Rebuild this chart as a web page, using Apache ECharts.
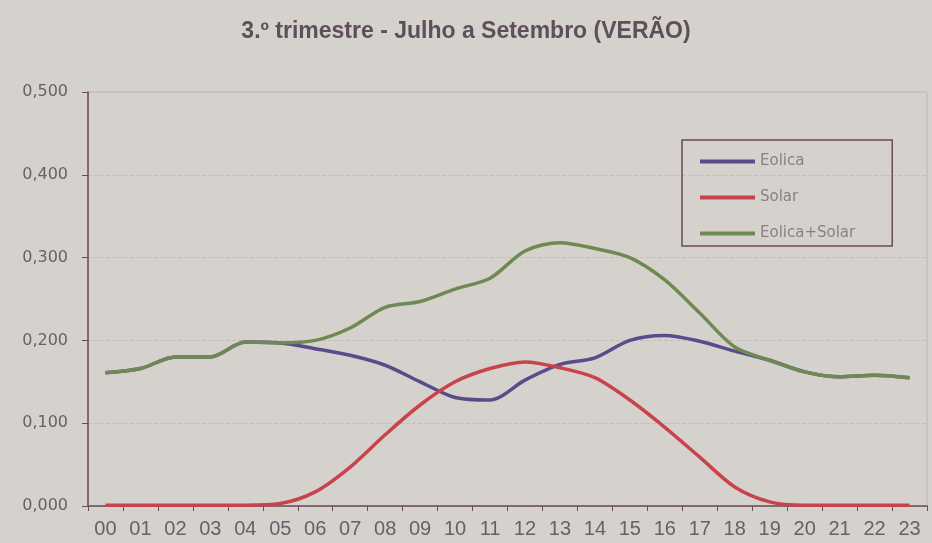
<!DOCTYPE html>
<html><head><meta charset="utf-8">
<script src="https://cdn.jsdelivr.net/npm/echarts@6/dist/echarts.min.js"></script>
<style>html,body{margin:0;padding:0;background:#d5d2cd;}#c{width:932px;height:543px;}</style>
</head><body><div id="c"></div>
<script>
const hours = ['00','01','02','03','04','05','06','07','08','09','10','11','12','13','14','15','16','17','18','19','20','21','22','23'];
const eolica = [0.161,0.166,0.180,0.180,0.198,0.197,0.190,0.182,0.170,0.150,0.131,0.128,0.152,0.171,0.179,0.200,0.206,0.199,0.187,0.176,0.162,0.156,0.158,0.155];
const solar = [0.001,0.001,0.001,0.001,0.001,0.003,0.017,0.047,0.086,0.122,0.150,0.166,0.174,0.167,0.155,0.128,0.095,0.059,0.023,0.005,0.001,0.001,0.001,0.001];
const eolicaSolar = [0.161,0.166,0.180,0.180,0.198,0.197,0.200,0.215,0.240,0.247,0.262,0.275,0.308,0.318,0.311,0.300,0.273,0.233,0.192,0.176,0.162,0.156,0.158,0.155];
const yTicks = ['0,000','0,100','0,200','0,300','0,400','0,500'];

const chart = echarts.init(document.getElementById('c'));
chart.setOption({
  backgroundColor: '#d5d2cd',
  animation: false,
  title: {
    text: '3.º trimestre - Julho a Setembro (VERÃO)',
    left: 'center', top: 15,
    textStyle: {fontFamily: 'Liberation Sans, Arial', fontSize: 23, fontWeight: 'bold', color: '#5e4f5a'}
  },
  legend: {
    orient: 'vertical', left: 682, top: 140,
    padding: [14, 37, 5, 18], itemGap: 21,
    borderColor: '#6b4a5c', borderWidth: 1.5, borderRadius: 0,
    itemWidth: 55, itemHeight: 4,
    icon: 'rect',
    textStyle: {fontFamily: 'DejaVu Sans', fontSize: 15, color: '#8a7f88'},
    data: ['Eolica', 'Solar', 'Eolica+Solar']
  },
  grid: {left: 88, right: 5, top: 92, bottom: 37, show: true, borderColor: '#bdb6b6', borderWidth: 1},
  xAxis: {
    type: 'category', data: hours, boundaryGap: true,
    axisLine: {lineStyle: {color: '#6b4a5c', width: 1.5}},
    axisTick: {show: true, length: 5, lineStyle: {color: '#6b4a5c'}, alignWithLabel: false},
    axisLabel: {fontFamily: 'Liberation Sans, Arial', fontSize: 20, color: '#6a5e68', margin: 13}
  },
  yAxis: {
    type: 'value', min: 0, max: 0.5, interval: 0.1,
    axisLine: {show: true, lineStyle: {color: '#6b4a5c', width: 1.5}},
    axisTick: {show: true, length: 6, lineStyle: {color: '#6b4a5c'}},
    splitLine: {show: true, lineStyle: {color: '#c4bfbc', type: 'dashed', width: 1}},
    axisLabel: {fontFamily: 'DejaVu Sans', fontSize: 16, color: '#6a5e68', margin: 20,
      formatter: (v) => yTicks[Math.round(v * 10)]}
  },
  series: [
    {name: 'Eolica', type: 'line', data: eolica, smooth: 0.3, symbol: 'none', z: 1,
     lineStyle: {color: '#5a4b8a', width: 3.5}, itemStyle: {color: '#5a4b8a'}},
    {name: 'Solar', type: 'line', data: solar, smooth: 0.3, symbol: 'none', z: 2,
     lineStyle: {color: '#c8434c', width: 3.5}, itemStyle: {color: '#c8434c'}},
    {name: 'Eolica+Solar', type: 'line', data: eolicaSolar, smooth: 0.3, symbol: 'none', z: 3,
     lineStyle: {color: '#6e8a52', width: 3.5}, itemStyle: {color: '#6e8a52'}}
  ]
});
</script></body></html>
